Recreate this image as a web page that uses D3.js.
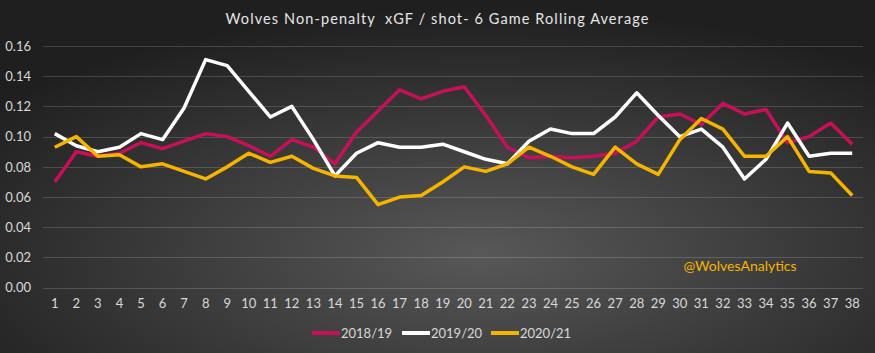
<!DOCTYPE html>
<html>
<head>
<meta charset="UTF-8">
<title>Wolves Non-penalty xGF / shot</title>
<script src="https://d3js.org/d3.v7.min.js"></script>
<style>
    body { margin: 0; padding: 0; background: #2a2a2a; }
    svg { display: block; font-family: Lato, "Open Sans", sans-serif; }
</style>
</head>
<body>
<svg id="chart" width="875" height="353"></svg>
<script>
const games = d3.range(1, 39);
const season1819 = [0.070, 0.090, 0.087, 0.089, 0.096, 0.092, 0.097, 0.102, 0.100, 0.094,
    0.087, 0.098, 0.093, 0.082, 0.103, 0.117, 0.131, 0.125, 0.130, 0.133,
    0.114, 0.093, 0.086, 0.087, 0.086, 0.087, 0.089, 0.097, 0.113, 0.115,
    0.108, 0.122, 0.115, 0.118, 0.096, 0.100, 0.109, 0.095];
const season1920 = [0.102, 0.094, 0.090, 0.093, 0.102, 0.098, 0.119, 0.151, 0.147, 0.130,
    0.113, 0.120, 0.098, 0.074, 0.089, 0.096, 0.093, 0.093, 0.095, 0.090,
    0.085, 0.082, 0.097, 0.105, 0.102, 0.102, 0.113, 0.129, 0.114, 0.100,
    0.105, 0.093, 0.072, 0.085, 0.109, 0.087, 0.089, 0.089];
const season2021 = [0.093, 0.100, 0.087, 0.088, 0.080, 0.082, 0.077, 0.072, 0.080, 0.089,
    0.083, 0.087, 0.079, 0.074, 0.073, 0.055, 0.060, 0.061, 0.070, 0.080,
    0.077, 0.082, 0.093, 0.087, 0.080, 0.075, 0.093, 0.082, 0.075, 0.098,
    0.112, 0.105, 0.087, 0.087, 0.100, 0.077, 0.076, 0.061];
const yTicks = [0, 0.02, 0.04, 0.06, 0.08, 0.10, 0.12, 0.14, 0.16];

const series = [
    { name: "2018/19", values: season1819, color: "#c8105a" },
    { name: "2019/20", values: season1920, color: "#ffffff" },
    { name: "2020/21", values: season2021, color: "#f5b400" }
];

const W = 875, H = 353;
const margin = { top: 46, right: 12, bottom: 65, left: 44 };
const svg = d3.select("#chart");

// background gradient
const defs = svg.append("defs");
const grad = defs.append("radialGradient")
    .attr("id", "bg")
    .attr("cx", "55%").attr("cy", "72%").attr("r", "70%");
grad.append("stop").attr("offset", "0%").attr("stop-color", "#585858");
grad.append("stop").attr("offset", "100%").attr("stop-color", "#1f1f1f");
svg.append("rect").attr("width", W).attr("height", H).attr("fill", "url(#bg)");

const x = d3.scaleBand()
    .domain(games)
    .range([margin.left, W - margin.right]);
const y = d3.scaleLinear()
    .domain([0, 0.16])
    .range([H - margin.bottom - 0.3, margin.top]);

// gridlines
svg.append("g")
    .selectAll("line")
    .data(yTicks)
    .enter().append("line")
    .attr("x1", margin.left - 1)
    .attr("x2", W - margin.right)
    .attr("y1", d => Math.round(y(d)) + 0.5)
    .attr("y2", d => Math.round(y(d)) + 0.5)
    .attr("stroke", "#ffffff")
    .attr("stroke-opacity", 0.16)
    .attr("stroke-width", 1);

// y axis labels
const yAxis = svg.append("g")
    .attr("transform", `translate(${margin.left - 10},0)`)
    .call(d3.axisLeft(y).tickValues(yTicks).tickFormat(d3.format(".2f")).tickSize(0));
yAxis.select(".domain").remove();
yAxis.selectAll("text")
    .attr("fill", "#d9d9d9")
    .attr("font-size", 13)
    .attr("font-family", "Lato, sans-serif");

// x axis labels
const xAxis = svg.append("g")
    .attr("transform", `translate(0,${H - margin.bottom + 8})`)
    .call(d3.axisBottom(x).tickSize(0));
xAxis.select(".domain").remove();
xAxis.selectAll("text")
    .attr("fill", "#d9d9d9")
    .attr("font-size", 13)
    .attr("font-family", "Lato, sans-serif");

// lines
const line = d3.line()
    .x((d, i) => x(games[i]) + x.bandwidth() / 2)
    .y(d => y(d));

svg.append("g")
    .selectAll("path")
    .data(series)
    .enter().append("path")
    .attr("d", d => line(d.values))
    .attr("fill", "none")
    .attr("stroke", d => d.color)
    .attr("stroke-width", 3.5)
    .attr("stroke-linejoin", "round");

// title
svg.append("text")
    .attr("x", W / 2)
    .attr("y", 24)
    .attr("text-anchor", "middle")
    .attr("fill", "#e6e6e6")
    .attr("font-size", 14.5)
    .attr("letter-spacing", 1.1)
    .attr("xml:space", "preserve")
    .text("Wolves Non-penalty  xGF / shot- 6 Game Rolling Average");

// watermark
svg.append("text")
    .attr("x", 740)
    .attr("y", 271)
    .attr("text-anchor", "middle")
    .attr("fill", "#f5b400")
    .attr("font-size", 14)
    .text("@WolvesAnalytics");

// legend
const legendX = [312, 402, 491];
const legend = svg.append("g")
    .selectAll("g")
    .data(series)
    .enter().append("g")
    .attr("transform", (d, i) => `translate(${legendX[i]},333)`);
legend.append("line")
    .attr("x1", 0).attr("x2", 28)
    .attr("stroke", d => d.color)
    .attr("stroke-width", 4);
legend.append("text")
    .attr("x", 29)
    .attr("y", 5)
    .attr("fill", "#d9d9d9")
    .attr("font-size", 13)
    .text(d => d.name);
</script>
</body>
</html>
